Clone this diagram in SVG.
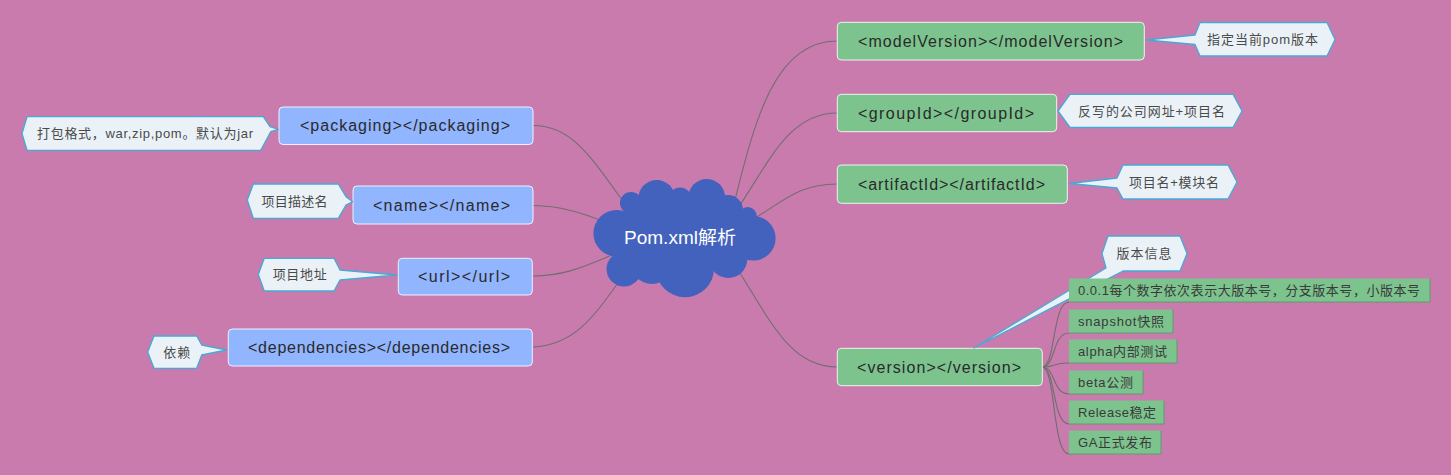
<svg xmlns="http://www.w3.org/2000/svg" width="1451" height="475" viewBox="0 0 1451 475">
<style>
.bg{fill:#CA7BAD}
.conn{fill:none;stroke:#6F6F6F;stroke-width:1.1}
.green{fill:#7DC38E;stroke:#EEF5EE;stroke-width:1}
.blue{fill:#91B5FF;stroke:#EEF2FF;stroke-width:1}
.child{fill:#7DC38E}
.shadow{fill:none;stroke:#5E9A6C;stroke-width:1}
.callout{fill:#EAF2F8;stroke:#47A9D5;stroke-width:1.3;stroke-linejoin:round}
.nt{font-family:"Liberation Sans","Noto Sans CJK SC",sans-serif;font-size:16px;fill:#2A2A2A}
.ct{font-family:"Liberation Sans","Noto Sans CJK SC",sans-serif;font-size:13px;fill:#4A4A4A}
.kt{font-family:"Liberation Sans","Noto Sans CJK SC",sans-serif;font-size:13px;fill:#3A3A3A}
.cloud{fill:#4262BD}
</style>
<rect class="bg" x="0" y="0" width="1451" height="475"/>

<g id="connectors">
  <path class="conn" d="M533,125.5 C570,125 590,155 622,200"/>
  <path class="conn" d="M533,205.5 C560,206 580,212 605,222"/>
  <path class="conn" d="M533,276 C565,276 585,266 612,255"/>
  <path class="conn" d="M533,347 C575,345 595,315 620,280"/>
  <path class="conn" d="M735,200 C755,120 775,41 837,41"/>
  <path class="conn" d="M740,205 C770,160 790,113 837,113"/>
  <path class="conn" d="M752,220 C785,200 800,184 837,184"/>
  <path class="conn" d="M738,270 C770,320 790,367 837,367"/>
  <path class="conn" d="M1042,367 C1056,367 1052,302 1069,302"/>
  <path class="conn" d="M1042,367 C1056,367 1052,333 1069,333"/>
  <path class="conn" d="M1042,367 C1056,367 1052,363 1069,363"/>
  <path class="conn" d="M1042,367 C1056,367 1052,394 1069,394"/>
  <path class="conn" d="M1042,367 C1056,367 1052,424 1069,424"/>
  <path class="conn" d="M1042,367 C1056,367 1052,454 1069,454"/>
</g>

<g id="root">
  <g class="cloud">
    <circle cx="616.7" cy="233.3" r="23.3"/>
    <circle cx="631" cy="203" r="11"/>
    <circle cx="640" cy="225" r="20"/>
    <circle cx="648" cy="212" r="18"/>
    <circle cx="656.7" cy="198.3" r="18.3"/>
    <circle cx="680" cy="199" r="11.5"/>
    <circle cx="700" cy="215" r="20"/>
    <circle cx="706.7" cy="197.3" r="18.3"/>
    <circle cx="728" cy="210" r="15"/>
    <circle cx="747.7" cy="216" r="9"/>
    <circle cx="753.3" cy="238.3" r="22.3"/>
    <circle cx="735" cy="235" r="20"/>
    <circle cx="728.3" cy="259" r="19"/>
    <circle cx="685" cy="268.3" r="29"/>
    <circle cx="652" cy="262" r="22"/>
    <circle cx="624" cy="269" r="17.5"/>
    <ellipse cx="683" cy="238" rx="58" ry="38"/>
  </g>
  <text x="624" y="243.5" textLength="112" lengthAdjust="spacingAndGlyphs" style="font-family:'Liberation Sans','Noto Sans CJK SC',sans-serif;font-size:18px;fill:#FFFFFF">Pom.xml解析</text>
</g>

<g id="node-modelVersion">
  <rect class="green" x="837.3" y="22.3" width="307" height="37.7" rx="4"/>
  <text class="nt" x="858" y="46.5" textLength="265" lengthAdjust="spacing">&lt;modelVersion&gt;&lt;/modelVersion&gt;</text>
</g>
<g id="node-groupId">
  <rect class="green" x="837.3" y="94.3" width="219.4" height="37.4" rx="4"/>
  <text class="nt" x="858" y="118.5" textLength="176" lengthAdjust="spacing">&lt;groupId&gt;&lt;/groupId&gt;</text>
</g>
<g id="node-artifactId">
  <rect class="green" x="837.3" y="165" width="230" height="38.3" rx="4"/>
  <text class="nt" x="858" y="189.5" textLength="187" lengthAdjust="spacing">&lt;artifactId&gt;&lt;/artifactId&gt;</text>
</g>
<g id="node-version">
  <rect class="green" x="837.3" y="348.3" width="205" height="37.4" rx="4"/>
  <text class="nt" x="857" y="372.5" textLength="164" lengthAdjust="spacing">&lt;version&gt;&lt;/version&gt;</text>
</g>

<g id="node-packaging">
  <rect class="blue" x="279" y="107" width="254" height="37.5" rx="4"/>
  <text class="nt" x="300" y="131.3" textLength="210" lengthAdjust="spacing">&lt;packaging&gt;&lt;/packaging&gt;</text>
</g>
<g id="node-name">
  <rect class="blue" x="353" y="186" width="180" height="38" rx="4"/>
  <text class="nt" x="373" y="210.5" textLength="137" lengthAdjust="spacing">&lt;name&gt;&lt;/name&gt;</text>
</g>
<g id="node-url">
  <rect class="blue" x="398.3" y="258.3" width="134" height="36.7" rx="4"/>
  <text class="nt" x="418" y="282.3" textLength="92" lengthAdjust="spacing">&lt;url&gt;&lt;/url&gt;</text>
</g>
<g id="node-dependencies">
  <rect class="blue" x="228.3" y="329" width="304" height="37" rx="4"/>
  <text class="nt" x="248" y="353" textLength="262" lengthAdjust="spacing">&lt;dependencies&gt;&lt;/dependencies&gt;</text>
</g>

<g id="callout-modelVersion">
  <path class="callout" d="M1200,22.5 H1327 L1335,39.5 L1327,56 H1200 L1195,44.5 L1146,40 L1195,35 Z"/>
  <text class="ct" x="1262.5" y="44" text-anchor="middle" textLength="111" lengthAdjust="spacing">指定当前pom版本</text>
</g>
<g id="callout-groupId">
  <path class="callout" d="M1070,94.3 H1233 L1242,111 L1233,127.5 H1070 L1058,111 Z"/>
  <text class="ct" x="1151.5" y="115.5" text-anchor="middle" textLength="147" lengthAdjust="spacing">反写的公司网址+项目名</text>
</g>
<g id="callout-artifactId">
  <path class="callout" d="M1123,165 H1228 L1237,182 L1228,199 H1123 L1117,188 L1069,183.5 L1117,178 Z"/>
  <text class="ct" x="1174" y="186.5" text-anchor="middle" textLength="90" lengthAdjust="spacing">项目名+模块名</text>
</g>
<g id="callout-version">
  <path class="callout" d="M1108,236 H1180 L1187,253.5 L1180,271 H1123 L974,348 L1106,268 L1102,253.5 Z"/>
  <text class="ct" x="1144" y="258" text-anchor="middle" textLength="55" lengthAdjust="spacing">版本信息</text>
</g>
<g id="callout-packaging">
  <path class="callout" d="M27,116.7 H263.3 L270,126.7 L278.3,129.3 L270.7,131.7 L260.7,150.3 H27 L22,133.5 Z"/>
  <text class="ct" x="145" y="138" text-anchor="middle" textLength="216" lengthAdjust="spacing">打包格式，war,zip,pom。默认为jar</text>
</g>
<g id="callout-name">
  <path class="callout" d="M253.3,184 H338.3 L346,196.7 L352.7,201.7 L346,205 L338.3,218.3 H253.3 L247.3,200 Z"/>
  <text class="ct" x="294.5" y="205.5" text-anchor="middle" textLength="66" lengthAdjust="spacing">项目描述名</text>
</g>
<g id="callout-url">
  <path class="callout" d="M264.3,258.3 H334 L340,270 L397,275 L340,280 L334,291 H264.3 L258.3,274.5 Z"/>
  <text class="ct" x="299.7" y="279" text-anchor="middle" textLength="54" lengthAdjust="spacing">项目地址</text>
</g>
<g id="callout-dependencies">
  <path class="callout" d="M154,336 H196.7 L201.7,345 L226.7,350 L201.7,355 L196.7,368.3 H154 L147.7,352 Z"/>
  <text class="ct" x="176.7" y="356.5" text-anchor="middle" textLength="27" lengthAdjust="spacing">依赖</text>
</g>

<g id="child-1">
  <rect class="child" x="1069" y="278.5" width="361" height="23.5"/>
  <path class="shadow" d="M1069,302 H1430 V278.5"/>
  <text class="kt" x="1078" y="295" textLength="342" lengthAdjust="spacing">0.0.1每个数字依次表示大版本号，分支版本号，小版本号</text>
</g>
<g id="child-2">
  <rect class="child" x="1069" y="309.5" width="104" height="23.5"/>
  <path class="shadow" d="M1069,333 H1173 V309.5"/>
  <text class="kt" x="1078" y="326" textLength="86" lengthAdjust="spacing">snapshot快照</text>
</g>
<g id="child-3">
  <rect class="child" x="1069" y="339.5" width="108" height="23.5"/>
  <path class="shadow" d="M1069,363 H1177 V339.5"/>
  <text class="kt" x="1078" y="356" textLength="89" lengthAdjust="spacing">alpha内部测试</text>
</g>
<g id="child-4">
  <rect class="child" x="1069" y="370.5" width="74" height="23.5"/>
  <path class="shadow" d="M1069,394 H1143 V370.5"/>
  <text class="kt" x="1078" y="387" textLength="55" lengthAdjust="spacing">beta公测</text>
</g>
<g id="child-5">
  <rect class="child" x="1069" y="400.5" width="95" height="23.5"/>
  <path class="shadow" d="M1069,424 H1164 V400.5"/>
  <text class="kt" x="1078" y="417" textLength="78" lengthAdjust="spacing">Release稳定</text>
</g>
<g id="child-6">
  <rect class="child" x="1069" y="430.5" width="92" height="23.5"/>
  <path class="shadow" d="M1069,454 H1161 V430.5"/>
  <text class="kt" x="1078" y="447" textLength="74" lengthAdjust="spacing">GA正式发布</text>
</g>
</svg>
